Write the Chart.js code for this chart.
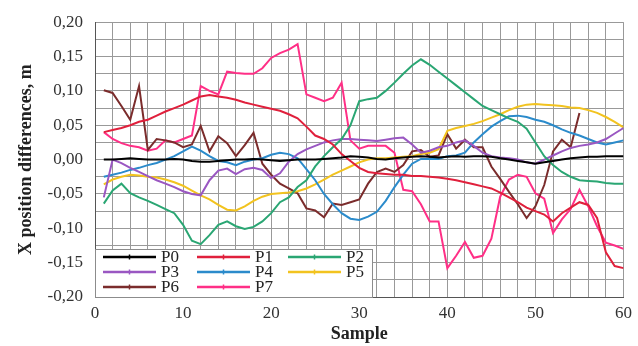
<!DOCTYPE html>
<html>
<head>
<meta charset="utf-8">
<script src="https://cdn.jsdelivr.net/npm/chart.js@4.4.1/dist/chart.umd.min.js"></script>
<style>
  html, body { margin: 0; padding: 0; background: #ffffff; }
  #wrap { width: 638px; height: 346px; position: relative; }
</style>
</head>
<body>
<div id="wrap"><canvas id="c" width="638" height="346"></canvas></div>
<script>
// Sample index (x axis)
const samples = Array.from({ length: 60 }, (_, i) => i + 1);

// X position differences per point, metres
const p0 = [0.000,0.000,0.001,0.002,0.001,0.000,0.000,0.000,0.001,0.000,
            -0.002,-0.003,-0.003,-0.002,-0.001,0.000,0.000,0.001,0.000,-0.001,
            -0.002,-0.001,0.000,0.000,0.000,0.001,0.002,0.003,0.005,0.004,
            0.003,0.001,0.000,0.002,0.003,0.004,0.005,0.004,0.003,0.004,
            0.005,0.004,0.005,0.005,0.004,0.002,0.000,-0.002,-0.004,-0.006,
            -0.004,-0.002,0.000,0.002,0.003,0.004,0.004,0.005,0.005,0.005];
const p1 = [0.040,0.043,0.046,0.050,0.055,0.058,0.064,0.070,0.075,0.080,
            0.086,0.092,0.094,0.092,0.090,0.087,0.083,0.080,0.077,0.074,
            0.071,0.066,0.060,0.048,0.035,0.030,0.022,0.008,-0.002,-0.012,
            -0.018,-0.020,-0.021,-0.022,-0.022,-0.024,-0.024,-0.025,-0.026,-0.028,
            -0.030,-0.033,-0.036,-0.039,-0.042,-0.048,-0.055,-0.062,-0.070,-0.075,
            -0.080,-0.090,-0.078,-0.070,-0.062,-0.066,-0.085,-0.135,-0.155,-0.158];
const p2 = [-0.064,-0.045,-0.035,-0.049,-0.055,-0.060,-0.066,-0.072,-0.078,-0.095,
            -0.118,-0.123,-0.110,-0.095,-0.090,-0.097,-0.101,-0.098,-0.090,-0.078,
            -0.062,-0.055,-0.040,-0.030,-0.010,0.005,0.018,0.030,0.050,0.085,
            0.088,0.090,0.100,0.112,0.125,0.137,0.146,0.138,0.128,0.118,
            0.108,0.098,0.088,0.078,0.072,0.066,0.060,0.055,0.045,0.025,
            0.005,-0.008,-0.018,-0.025,-0.030,-0.031,-0.032,-0.034,-0.035,-0.035];
const p3 = [-0.055,0.000,-0.005,-0.012,-0.018,-0.024,-0.030,-0.035,-0.040,-0.046,
            -0.050,-0.052,-0.030,-0.016,-0.013,-0.021,-0.014,-0.012,-0.015,-0.027,
            -0.020,-0.003,0.008,0.015,0.020,0.025,0.028,0.030,0.030,0.029,
            0.028,0.027,0.029,0.031,0.032,0.022,0.010,0.013,0.018,0.020,
            0.025,0.028,0.020,0.010,0.005,0.003,0.002,0.000,-0.004,-0.006,
            0.000,0.006,0.012,0.017,0.020,0.022,0.025,0.030,0.038,0.046];
const p4 = [-0.025,-0.022,-0.019,-0.015,-0.012,-0.008,-0.005,0.000,0.005,0.012,
            0.019,0.013,0.005,-0.002,-0.004,-0.008,-0.003,0.000,0.002,0.007,
            0.010,0.008,0.002,-0.014,-0.030,-0.050,-0.065,-0.078,-0.086,-0.088,
            -0.083,-0.076,-0.060,-0.040,-0.022,-0.006,0.001,0.001,0.001,0.005,
            0.006,0.010,0.025,0.037,0.048,0.056,0.063,0.064,0.062,0.058,
            0.055,0.050,0.044,0.039,0.035,0.030,0.025,0.022,0.025,0.028];
const p5 = [-0.036,-0.029,-0.025,-0.022,-0.023,-0.025,-0.026,-0.029,-0.033,-0.038,
            -0.045,-0.052,-0.058,-0.066,-0.073,-0.074,-0.068,-0.060,-0.054,-0.050,
            -0.049,-0.048,-0.046,-0.042,-0.036,-0.029,-0.022,-0.016,-0.010,-0.004,
            0.000,0.002,0.002,0.003,0.004,0.005,0.008,0.010,0.015,0.042,
            0.046,0.049,0.052,0.056,0.061,0.066,0.072,0.077,0.080,0.081,
            0.080,0.079,0.078,0.076,0.075,0.072,0.068,0.062,0.055,0.047];
const p6 = [0.101,0.097,0.078,0.058,0.107,0.014,0.030,0.028,0.025,0.018,
            0.022,0.049,0.012,0.034,0.024,0.005,0.021,0.039,-0.006,-0.022,
            -0.035,-0.042,-0.049,-0.071,-0.074,-0.084,-0.064,-0.066,-0.062,-0.058,
            -0.035,-0.018,-0.013,-0.018,-0.008,0.012,0.014,0.004,0.006,0.037,
            0.016,0.029,0.018,0.018,-0.010,-0.028,-0.047,-0.065,-0.085,-0.068,
            -0.037,0.012,0.029,0.018,0.068];
const p7 = [0.040,0.030,0.024,0.020,0.018,0.013,0.016,0.028,0.025,0.030,
            0.035,0.107,0.100,0.095,0.128,0.126,0.125,0.125,0.133,0.148,
            0.155,0.160,0.168,0.095,0.090,0.085,0.090,0.112,0.028,0.016,
            0.020,0.020,0.020,0.010,-0.044,-0.046,-0.065,-0.090,-0.090,-0.158,
            -0.140,-0.120,-0.143,-0.140,-0.115,-0.054,-0.029,-0.022,-0.025,-0.049,
            -0.057,-0.107,-0.087,-0.072,-0.044,-0.068,-0.097,-0.121,-0.125,-0.130];

const seriesNames = ['P0', 'P1', 'P2', 'P3', 'P4', 'P5', 'P6', 'P7'];
const seriesValues = [p0, p1, p2, p3, p4, p5, p6, p7];
const seriesColors = ['#000000', '#e0203c', '#2aa673', '#9a57c2',
                      '#2b8bcb', '#f2c31f', '#7b2c2c', '#ff2f86'];

// Axis ranges; grid lines every step, labels every labelEvery-th line
const xRange = [0, 60], xGridStep = 2, xLabelEvery = 5;
const yRange = [-0.2, 0.2], yGridStep = 0.025, yLabelEvery = 2;

const serif = '"Liberation Serif", "Times New Roman", serif';
const gridColor = '#999999';

const datasets = seriesValues.map((vals, k) => ({
  label: seriesNames[k],
  data: vals.map((v, i) => ({ x: samples[i], y: v })),
  borderColor: seriesColors[k],
  backgroundColor: seriesColors[k],
  borderWidth: 2,
  pointRadius: 0,
  tension: 0,
  fill: false
}));

// One tick per grid line, set explicitly so none are thinned out
function gridTicks(range, step) {
  const n = Math.round((range[1] - range[0]) / step);
  const out = [];
  for (let i = 0; i <= n; i++) {
    out.push({ value: +(range[0] + i * step).toFixed(4) });
  }
  return out;
}

// Legend box drawn inside the plot area, bottom-left, 3 columns
const innerLegend = {
  id: 'innerLegend',
  afterDatasetsDraw(chart) {
    const { ctx, chartArea } = chart;
    const boxL = chartArea.left, boxB = chartArea.bottom;
    const boxW = 278, boxH = 48;
    const boxT = boxB - boxH;
    ctx.save();
    ctx.fillStyle = '#ffffff';
    ctx.fillRect(boxL, boxT, boxW, boxH);
    ctx.strokeStyle = '#8c8c8c';
    ctx.lineWidth = 1;
    ctx.strokeRect(boxL + 0.5, boxT + 0.5, boxW - 1, boxH);
    ctx.font = '17px ' + serif;
    ctx.textBaseline = 'middle';
    ctx.textAlign = 'left';
    const colX = [8, 102, 193];
    const rowY = [8, 23, 38];
    chart.data.datasets.forEach((ds, i) => {
      const c = i % 3, r = Math.floor(i / 3);
      const x0 = boxL + colX[c], y0 = boxT + rowY[r];
      ctx.strokeStyle = ds.borderColor;
      ctx.lineWidth = 2.5;
      ctx.beginPath();
      ctx.moveTo(x0, y0);
      ctx.lineTo(x0 + 53, y0);
      ctx.stroke();
      // small marker in the middle of the sample line
      ctx.lineWidth = 1.5;
      ctx.beginPath();
      ctx.moveTo(x0 + 26.5, y0 - 2.5);
      ctx.lineTo(x0 + 26.5, y0 + 2.5);
      ctx.stroke();
      ctx.fillStyle = '#222222';
      ctx.fillText(ds.label, x0 + 58, y0 + 1);
    });
    ctx.restore();
  }
};

new Chart(document.getElementById('c'), {
  type: 'line',
  data: { datasets },
  plugins: [innerLegend],
  options: {
    responsive: false,
    animation: false,
    devicePixelRatio: 1,
    layout: { padding: { top: 18, right: 13, left: 0, bottom: 0 } },
    plugins: { legend: { display: false }, tooltip: { enabled: false } },
    scales: {
      x: {
        type: 'linear', position: 'bottom',
        min: xRange[0], max: xRange[1],
        afterBuildTicks(scale) { scale.ticks = gridTicks(xRange, xGridStep); },
        afterFit(scale) { scale.height = 49; },
        ticks: {
          autoSkip: false,
          maxRotation: 0,
          minRotation: 0,
          padding: 6,
          color: '#333333',
          font: { family: serif, size: 17 },
          callback: (v, i) => (i % xLabelEvery === 0 ? String(Math.round(v)) : '')
        },
        grid: { color: gridColor, lineWidth: 1, drawTicks: false },
        border: { display: true, color: '#555555', width: 1 },
        title: {
          display: true,
          text: 'Sample',
          color: '#222222',
          font: { family: serif, size: 18, weight: 'bold' },
          padding: { top: 0, bottom: 1 }
        }
      },
      y: {
        type: 'linear', position: 'left',
        min: yRange[0], max: yRange[1],
        afterBuildTicks(scale) { scale.ticks = gridTicks(yRange, yGridStep); },
        afterFit(scale) { scale.width = 95; },
        ticks: {
          autoSkip: false,
          padding: 12,
          color: '#333333',
          font: { family: serif, size: 17 },
          callback: (v, i) => (i % yLabelEvery === 0 ? v.toFixed(2).replace('.', ',') : '')
        },
        grid: { color: gridColor, lineWidth: 1, drawTicks: false },
        border: { display: true, color: '#555555', width: 1 },
        title: {
          display: true,
          text: 'X position differences, m',
          color: '#222222',
          font: { family: serif, size: 18, weight: 'bold' },
          padding: { top: 16, bottom: 0 }
        }
      }
    }
  }
});
</script>
</body>
</html>
